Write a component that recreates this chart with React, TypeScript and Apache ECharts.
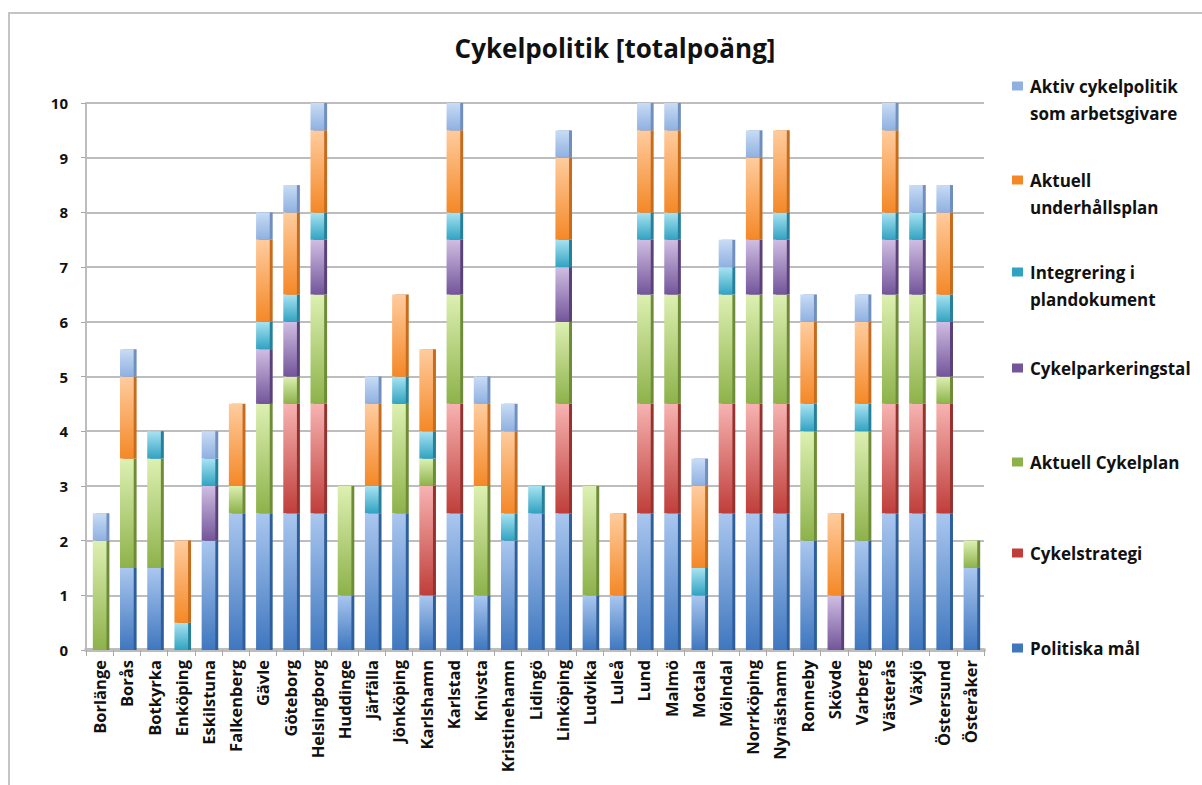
import React, { useEffect, useRef } from "react";
import * as echarts from "echarts";

const cities = [
  "Borlänge", "Borås", "Botkyrka", "Enköping", "Eskilstuna", "Falkenberg", "Gävle", "Göteborg",
  "Helsingborg", "Huddinge", "Järfälla", "Jönköping", "Karlshamn", "Karlstad", "Knivsta",
  "Kristinehamn", "Lidingö", "Linköping", "Ludvika", "Luleå", "Lund", "Malmö", "Motala",
  "Mölndal", "Norrköping", "Nynäshamn", "Ronneby", "Skövde", "Varberg", "Västerås", "Växjö",
  "Östersund", "Österåker",
];

const politiskaMal = [0, 1.5, 1.5, 0, 2, 2.5, 2.5, 2.5, 2.5, 1, 2.5, 2.5, 1, 2.5, 1, 2, 2.5, 2.5, 1, 1, 2.5, 2.5, 1, 2.5, 2.5, 2.5, 2, 0, 2, 2.5, 2.5, 2.5, 1.5];
const cykelstrategi = [0, 0, 0, 0, 0, 0, 0, 2, 2, 0, 0, 0, 2, 2, 0, 0, 0, 2, 0, 0, 2, 2, 0, 2, 2, 2, 0, 0, 0, 2, 2, 2, 0];
const aktuellCykelplan = [2, 2, 2, 0, 0, 0.5, 2, 0.5, 2, 2, 0, 2, 0.5, 2, 2, 0, 0, 1.5, 2, 0, 2, 2, 0, 2, 2, 2, 2, 0, 2, 2, 2, 0.5, 0.5];
const cykelparkeringstal = [0, 0, 0, 0, 1, 0, 1, 1, 1, 0, 0, 0, 0, 1, 0, 0, 0, 1, 0, 0, 1, 1, 0, 0, 1, 1, 0, 1, 0, 1, 1, 1, 0];
const integrering = [0, 0, 0.5, 0.5, 0.5, 0, 0.5, 0.5, 0.5, 0, 0.5, 0.5, 0.5, 0.5, 0, 0.5, 0.5, 0.5, 0, 0, 0.5, 0.5, 0.5, 0.5, 0, 0.5, 0.5, 0, 0.5, 0.5, 0.5, 0.5, 0];
const underhallsplan = [0, 1.5, 0, 1.5, 0, 1.5, 1.5, 1.5, 1.5, 0, 1.5, 1.5, 1.5, 1.5, 1.5, 1.5, 0, 1.5, 0, 1.5, 1.5, 1.5, 1.5, 0, 1.5, 1.5, 1.5, 1.5, 1.5, 1.5, 0, 1.5, 0];
const aktivArbetsgivare = [0.5, 0.5, 0, 0, 0.5, 0, 0.5, 0.5, 0.5, 0, 0.5, 0, 0, 0.5, 0.5, 0.5, 0, 0.5, 0, 0, 0.5, 0.5, 0.5, 0.5, 0.5, 0, 0.5, 0, 0.5, 0.5, 0.5, 0.5, 0];

const yTicks = [0, 1, 2, 3, 4, 5, 6, 7, 8, 9, 10];

const seriesDefs = [
  { name: "Politiska mål", data: politiskaMal, top: "#aac7ef", bottom: "#3f77bf", side: "#2f5f9c", label: "Politiska mål" },
  { name: "Cykelstrategi", data: cykelstrategi, top: "#f7b3b1", bottom: "#bf3e3a", side: "#96302d", label: "Cykelstrategi" },
  { name: "Aktuell Cykelplan", data: aktuellCykelplan, top: "#ddf0b2", bottom: "#8db24a", side: "#6e8c39", label: "Aktuell Cykelplan" },
  { name: "Cykelparkeringstal", data: cykelparkeringstal, top: "#d0bee3", bottom: "#73559a", side: "#5a4279", label: "Cykelparkeringstal" },
  { name: "Integrering i plandokument", data: integrering, top: "#a8e3f2", bottom: "#31a3c2", side: "#25809a", label: "\nIntegrering i\nplandokument" },
  { name: "Aktuell underhållsplan", data: underhallsplan, top: "#ffcc9e", bottom: "#f48827", side: "#c76c1b", label: "\nAktuell\nunderhållsplan" },
  { name: "Aktiv cykelpolitik som arbetsgivare", data: aktivArbetsgivare, top: "#c8dcf5", bottom: "#8fb0e0", side: "#6f8fbf", label: "\nAktiv cykelpolitik\nsom arbetsgivare" },
];

const legendIconY = [648, 553, 462, 368, 272, 180, 86];

const FONT = "'Open Sans', Lato, sans-serif";

export default function App() {
  const ref = useRef<HTMLDivElement>(null);
  useEffect(() => {
    if (!ref.current) return;
    const chart = echarts.init(ref.current, undefined, { renderer: "svg" });
    const LH = 27;
    const legends = seriesDefs.map((s, i) => {
      const multi = s.label.startsWith("\n");
      const h = multi ? LH * 3 : LH;
      return {
        show: true,
        data: [s.name],
        left: 1012,
        top: legendIconY[i] - h / 2,
        padding: 0,
        itemWidth: 11,
        itemHeight: 9,
        itemGap: 0,
        icon: "rect",
        selectedMode: false,
        formatter: () => s.label,
        textStyle: {
          fontFamily: FONT,
          fontWeight: "bold",
          fontSize: 17,
          color: "#111",
          lineHeight: LH,
          padding: [0, 0, 0, 2],
        },
        itemStyle: { color: s.bottom, shadowBlur: 0, shadowOffsetX: 0, shadowColor: "transparent" },
      };
    });
    const option: any = {
      animation: false,
      backgroundColor: "#ffffff",
      title: {
        text: "Cykelpolitik [totalpoäng]",
        left: 610,
        textAlign: "center",
        top: 30,
        textStyle: { fontFamily: FONT, fontWeight: "bold", fontSize: 26, color: "#111" },
      },
      graphic: [
        {
          type: "rect",
          shape: { x: 9, y: 13, width: 1400, height: 1000 },
          style: { fill: "none", stroke: "#c4c4c4", lineWidth: 2 },
          silent: true,
          z: -10,
        },
      ],
      legend: legends,
      grid: { left: 86, right: 218, top: 103, bottom: 135, containLabel: false },
      xAxis: {
        type: "category",
        data: cities,
        axisLine: { show: true, lineStyle: { color: "#bdbdbd", width: 4 } },
        axisTick: { show: true, interval: 0, length: 6, lineStyle: { color: "#a8a8a8", width: 1 } },
        axisLabel: {
          interval: 0,
          rotate: 90,
          margin: 10,
          fontFamily: FONT,
          fontWeight: "bold",
          fontSize: 16.5,
          color: "#111",
        },
        z: 1,
      },
      yAxis: {
        type: "value",
        min: 0,
        max: 10,
        interval: 1,
        axisLine: { show: true, lineStyle: { color: "#bdbdbd", width: 2 } },
        axisTick: { show: true, length: 5, lineStyle: { color: "#a8a8a8" } },
        axisLabel: {
          margin: 18,
          fontFamily: FONT,
          fontWeight: "bold",
          fontSize: 15,
          color: "#111",
          formatter: (v: number) => (yTicks.includes(v) ? String(v) : ""),
        },
        splitLine: { show: true, lineStyle: { color: "#bdbdbd", width: 2 } },
      },
      series: seriesDefs.map((s) => ({
        name: s.name,
        type: "bar",
        stack: "total",
        data: s.data,
        barWidth: "50%",
        itemStyle: {
          color: {
            type: "linear",
            x: 0,
            y: 0,
            x2: 0,
            y2: 1,
            colorStops: [
              { offset: 0, color: s.top },
              { offset: 1, color: s.bottom },
            ],
          },
          shadowColor: s.side,
          shadowBlur: 0,
          shadowOffsetX: 3,
          shadowOffsetY: 0,
        },
        emphasis: { disabled: true },
      })),
    };
    chart.setOption(option);
    return () => chart.dispose();
  }, []);
  return (
    <div
      ref={ref}
      style={{ position: "fixed", left: 0, top: 0, width: 1202, height: 785, background: "#fff" }}
    />
  );
}
